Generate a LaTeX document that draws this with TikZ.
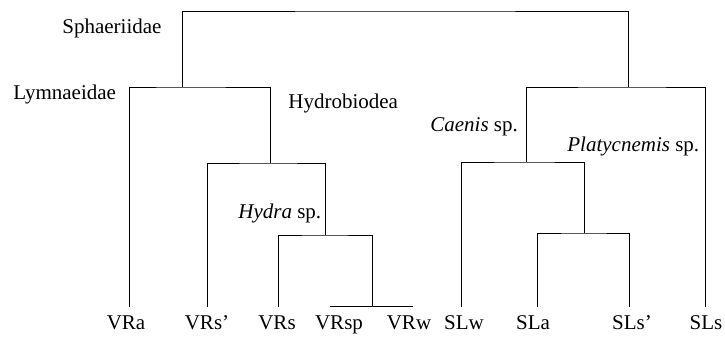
\documentclass[tikz,border=0pt]{standalone}
\usepackage{fontspec}
\setmainfont{Liberation Serif}
\begin{document}
\begin{tikzpicture}[x=1pt, y=-1pt, line width=0.8pt,
    every node/.style={inner sep=0pt, font=\fontsize{21}{25}\selectfont},
    leaf/.style={anchor=base},
    taxon/.style={anchor=base west}]
\useasboundingbox (0,0) rectangle (725,338);

    % Tips
    \coordinate (vra)  at (129,307);
    \coordinate (vrs1) at (207,307);
    \coordinate (vrs)  at (278,307);
    \coordinate (vrsp) at (330,306);
    \coordinate (vrw)  at (413,306);
    \coordinate (slw)  at (461,307);
    \coordinate (sla)  at (537,307);
    \coordinate (sls1) at (629,307);
    \coordinate (sls)  at (705,307);

    % Joins
    \coordinate (root) at (405,11);
    \coordinate (lym)  at (182,87);
    \coordinate (hyb)  at (270,163);
    \coordinate (hyd)  at (325,235);
    \coordinate (vrj)  at (372,306);
    \coordinate (cae)  at (628,87);
    \coordinate (pla)  at (526,162);
    \coordinate (slj)  at (584,233);

    % Tip labels
    \node (lvra)  [leaf] at (126,329) {VRa};
    \node (lvrs1) [leaf] at (207,329) {VRs'};
    \node (lvrs)  [leaf] at (277,329) {VRs};
    \node (lvrsp) [leaf] at (339,329) {VRsp};
    \node (lvrw)  [leaf] at (409,329) {VRw};
    \node (lslw)  [leaf] at (464,329) {SLw};
    \node (lsla)  [leaf] at (533,329) {SLa};
    \node (lsls1) [leaf] at (632,329) {SLs'};
    \node (lsls)  [leaf] at (706,329) {SLs};

    % Taxa
    \node (sph) [taxon] at (62,33) {Sphaeriidae};
    \node (lymn) [taxon] at (13,99) {Lymnaeidae};
    \node (hydro) [taxon] at (288,108) {Hydrobiodea};
    \node (caen) [taxon] at (430,131) {\textit{Caenis} sp.};
    \node (plat) [taxon] at (567,151) {\textit{Platycnemis} sp.};
    \node (hydra) [taxon] at (238,218) {\textit{Hydra} sp.};

    % Branches
    \draw (lym) |- (root) -| (cae);
    \draw (vra) |- (lym) -| (hyb);
    \draw (vrs1) |- (hyb) -| (hyd);
    \draw (vrs) |- (hyd) -| (vrj);
    \draw (vrsp) -- (vrw);
    \draw (pla) |- (cae) -| (sls);
    \draw (slw) |- (pla) -| (slj);
    \draw (sla) |- (slj) -| (sls1);

\end{tikzpicture}
\end{document}
